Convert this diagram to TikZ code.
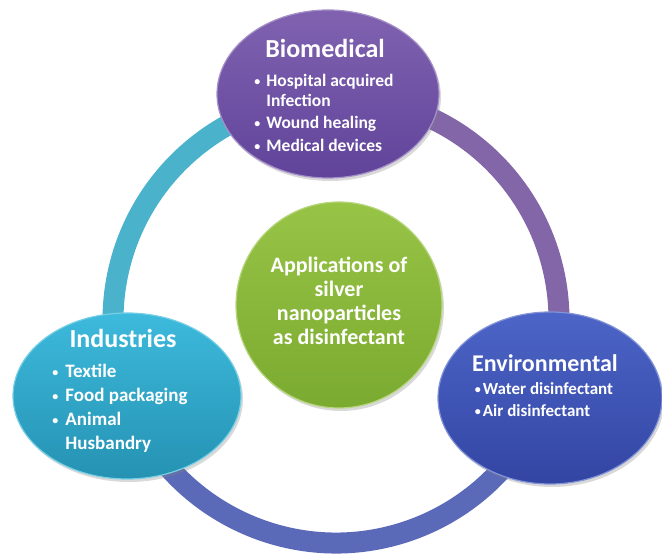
\documentclass[tikz,border=0pt]{standalone}
\usepackage{fontspec}
\setmainfont{Carlito}
\usetikzlibrary{shapes.geometric,shadows}
\definecolor{ringcyan}{HTML}{4AB2CB}
\definecolor{ringpurple}{HTML}{8266A8}
\definecolor{ringblue}{HTML}{5A6AB8}
\definecolor{bioT}{HTML}{8062B0}
\definecolor{bioB}{HTML}{60449A}
\definecolor{indT}{HTML}{3DBADC}
\definecolor{indB}{HTML}{2592B3}
\definecolor{envT}{HTML}{4C65C7}
\definecolor{envB}{HTML}{3345A3}
\definecolor{grnT}{HTML}{98C446}
\definecolor{grnB}{HTML}{7AAA30}
\newcommand{\mybul}{\raisebox{0.15ex}{\fontsize{12}{12}\selectfont\textbullet}}
\tikzset{
  ring/.style={line width=21pt},
  blob/.style={ellipse, inner sep=0pt, line width=1.2pt,
    drop shadow={opacity=0.3, shadow xshift=2pt, shadow yshift=-3pt}},
  txt/.style={text=white, inner sep=0pt},
}
\begin{document}
\begin{tikzpicture}[x=1pt,y=1pt]
\useasboundingbox (0,0) rectangle (662,557);
\coordinate (rc) at (336,237);
\draw[ring, ringcyan] ([shift={(92:223pt)}]rc) arc[start angle=92,end angle=200,radius=223pt];
\draw[ring, ringblue] ([shift={(200:223pt)}]rc) arc[start angle=200,end angle=340,radius=223pt];
\draw[ring, ringpurple] ([shift={(-20:223pt)}]rc) arc[start angle=-20,end angle=92,radius=223pt];

\node[blob, circle, minimum size=206pt, top color=grnT, bottom color=grnB, draw=grnT!70!white] (center) at (339,252) {};
\node[blob, minimum width=222pt, minimum height=168pt, top color=bioT, bottom color=bioB, draw=bioT!70!white] (bio) at (328,463) {};
\node[blob, minimum width=228pt, minimum height=166pt, top color=indT, bottom color=indB, draw=indT!70!white] (ind) at (127,161) {};
\node[blob, minimum width=224pt, minimum height=172pt, top color=envT, bottom color=envB, draw=envT!70!white] (env) at (550,159) {};

\node[txt, align=center, font=\bfseries\fontsize{22}{24}\selectfont] (ctext) at (339,256)
  {Applications of\\silver\\nanoparticles\\as disinfectant};

\node[txt, font=\bfseries\fontsize{26}{30}\selectfont] (biot) at (325,509) {Biomedical};
\node[txt, font=\bfseries\fontsize{17.5}{20}\selectfont] (biol) at (324,442)
  {\begin{tabular}{@{}l@{\hspace{6pt}}l@{}}\mybul & Hospital acquired\\ & Infection\\[2.5pt] \mybul & Wound healing\\[2.5pt] \mybul & Medical devices\end{tabular}};

\node[txt, font=\bfseries\fontsize{26}{30}\selectfont] (indt) at (123,219) {Industries};
\node[txt, font=\bfseries\fontsize{19}{24}\selectfont] (indl) at (120,148)
  {\begin{tabular}{@{}l@{\hspace{7pt}}l@{}}\mybul & Textile\\ \mybul & Food packaging\\ \mybul & Animal\\ & Husbandry\end{tabular}};

\node[txt, font=\bfseries\fontsize{24}{28}\selectfont] (envt) at (545,194) {Environmental};
\node[txt, font=\bfseries\fontsize{17}{22}\selectfont] (envl) at (544,156)
  {\begin{tabular}{@{}l@{\hspace{2pt}}l@{}}\mybul & Water disinfectant\\ \mybul & Air disinfectant\end{tabular}};
\end{tikzpicture}
\end{document}
